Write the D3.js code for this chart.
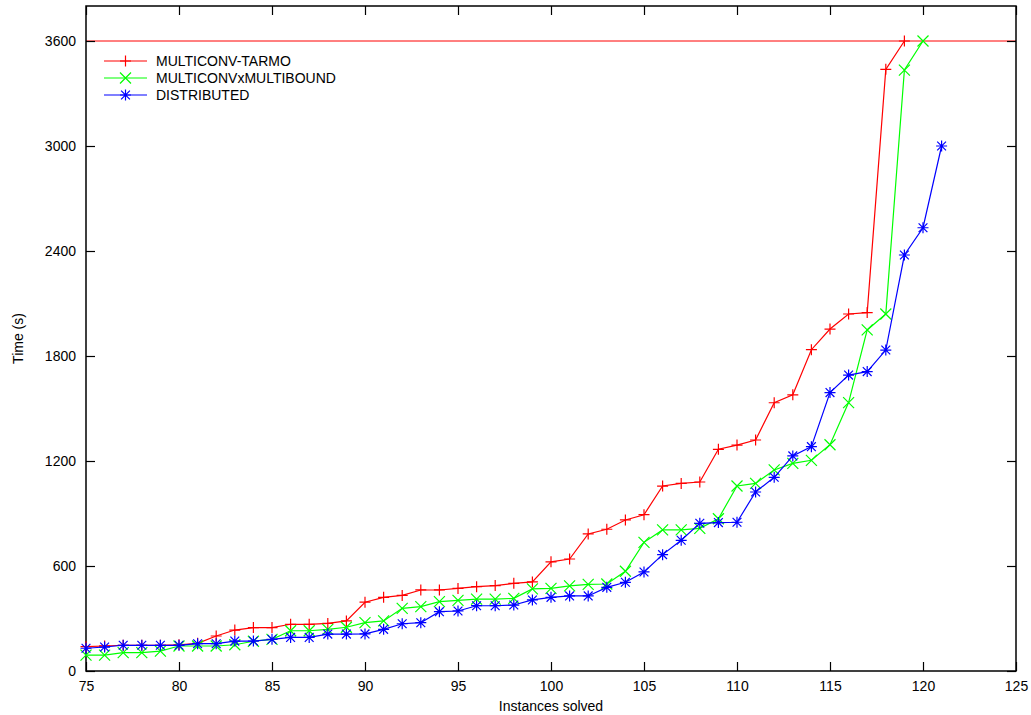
<!DOCTYPE html>
<html>
<head>
<meta charset="utf-8">
<script src="https://cdn.jsdelivr.net/npm/d3@7"></script>
<style>
  html, body { margin: 0; padding: 0; background: #fff; }
  svg { display: block; font-family: "Liberation Sans", Arial, Helvetica, sans-serif; }
</style>
</head>
<body>
<svg id="chart" width="1031" height="715"></svg>
<script>
// ---- data ----
const seriesNames = ["MULTICONV-TARMO", "MULTICONVxMULTIBOUND", "DISTRIBUTED"];
const seriesColors = ["#ff0000", "#00ff00", "#0000ff"];
const seriesMarkers = ["plus", "cross", "star"];
const startInstance = 75;
const tarmoTimes = [139, 143, 147, 147, 147, 150, 158, 200, 234, 248, 248, 267, 267, 272, 286, 393, 421, 432, 463, 463, 472, 482, 488, 501, 509, 624, 640, 783, 810, 863, 893, 1057, 1072, 1080, 1267, 1291, 1320, 1533, 1578, 1836, 1954, 2040, 2048, 3438, 3600];
const multiboundTimes = [91, 91, 105, 105, 114, 143, 143, 143, 150, 170, 181, 230, 230, 238, 250, 276, 286, 358, 368, 396, 404, 411, 411, 415, 469, 472, 486, 495, 497, 570, 735, 806, 806, 815, 870, 1057, 1072, 1149, 1186, 1204, 1293, 1534, 1949, 2040, 3434, 3600];
const distributedTimes = [130, 137, 147, 147, 147, 147, 156, 156, 171, 171, 181, 192, 192, 211, 211, 212, 238, 270, 276, 339, 343, 373, 373, 377, 406, 421, 429, 429, 478, 507, 566, 665, 747, 844, 848, 850, 1023, 1107, 1229, 1282, 1591, 1691, 1711, 1834, 2377, 2533, 3000];
const timeoutValue = 3600;
const xTicks = [75, 80, 85, 90, 95, 100, 105, 110, 115, 120, 125];
const yTicks = [0, 600, 1200, 1800, 2400, 3000, 3600];
const xDomain = [75, 125];
const yDomain = [0, 3800];
const xLabel = "Instances solved";
const yLabel = "Time (s)";

(function () {
const allSeries = [tarmoTimes, multiboundTimes, distributedTimes].map((vals, i) => ({
  name: seriesNames[i], color: seriesColors[i], marker: seriesMarkers[i],
  points: vals.map((v, j) => ({ x: startInstance + j, y: v }))
}));

// ---- layout ----
const svg = d3.select("#chart");
const mLeft = 86, mRight = 1016, mTop = 6, mBottom = 671;
const x = d3.scaleLinear().domain(xDomain).range([mLeft, mRight]);
const y = d3.scaleLinear().domain(yDomain).range([mBottom, mTop]);
const tickLen = 9;
const fontSize = 14;

// timeout line
svg.append("line")
  .attr("x1", x(xDomain[0])).attr("x2", x(xDomain[1]))
  .attr("y1", y(timeoutValue)).attr("y2", y(timeoutValue))
  .attr("stroke", seriesColors[0]).attr("stroke-width", 1);

// axes (ticks inward, mirrored)
const axisStyle = g => {
  g.select(".domain").remove();
  g.selectAll(".tick line").attr("stroke", "#000").attr("stroke-width", 1.2);
  g.selectAll(".tick text").attr("font-size", fontSize).attr("fill", "#000")
    .attr("font-family", '"Liberation Sans", Arial, sans-serif');
};
svg.append("g").attr("transform", `translate(0,${mBottom})`)
  .call(d3.axisBottom(x).tickValues(xTicks).tickSize(-tickLen).tickPadding(10).tickFormat(d3.format("d")))
  .call(axisStyle);
svg.append("g").attr("transform", `translate(0,${mTop})`)
  .call(d3.axisTop(x).tickValues(xTicks).tickSize(-tickLen).tickFormat(""))
  .call(axisStyle);
svg.append("g").attr("transform", `translate(${mLeft},0)`)
  .call(d3.axisLeft(y).tickValues(yTicks).tickSize(-tickLen).tickPadding(10).tickFormat(d3.format("d")))
  .call(axisStyle);
svg.append("g").attr("transform", `translate(${mRight},0)`)
  .call(d3.axisRight(y).tickValues(yTicks).tickSize(-tickLen).tickFormat(""))
  .call(axisStyle);

// border
svg.append("rect")
  .attr("x", mLeft).attr("y", mTop).attr("width", mRight - mLeft).attr("height", mBottom - mTop)
  .attr("fill", "none").attr("stroke", "#000").attr("stroke-width", 1.5);

// axis titles
svg.append("text").attr("x", (mLeft + mRight) / 2).attr("y", 711)
  .attr("text-anchor", "middle").attr("font-size", fontSize).text(xLabel);
svg.append("text").attr("transform", `translate(23,${(mTop + mBottom) / 2}) rotate(-90)`)
  .attr("text-anchor", "middle").attr("font-size", fontSize).text(yLabel);

// marker paths
const r = 5.5;
function markerPath(type) {
  const p = d3.path();
  if (type === "plus" || type === "star") {
    p.moveTo(-r, 0); p.lineTo(r, 0);
    p.moveTo(0, -r); p.lineTo(0, r);
  }
  if (type === "cross" || type === "star") {
    const q = type === "star" ? r * 0.8 : r;
    p.moveTo(-q, -q); p.lineTo(q, q);
    p.moveTo(-q, q); p.lineTo(q, -q);
  }
  return p.toString();
}

const line = d3.line().x(d => x(d.x)).y(d => y(d.y));
allSeries.forEach(s => {
  const g = svg.append("g");
  g.append("path").datum(s.points).attr("d", line)
    .attr("fill", "none").attr("stroke", s.color).attr("stroke-width", 1.2);
  g.selectAll("path.mk").data(s.points).enter().append("path").attr("class", "mk")
    .attr("transform", d => `translate(${x(d.x)},${y(d.y)})`)
    .attr("d", markerPath(s.marker))
    .attr("fill", "none").attr("stroke", s.color).attr("stroke-width", 1.2);
});

// legend
const legendY = [61, 78, 95];
allSeries.forEach((s, i) => {
  const g = svg.append("g").attr("transform", `translate(0,${legendY[i]})`);
  g.append("line").attr("x1", 104).attr("x2", 147).attr("y1", 0).attr("y2", 0)
    .attr("stroke", s.color).attr("stroke-width", 1.2);
  g.append("path").attr("transform", "translate(125.5,0)").attr("d", markerPath(s.marker))
    .attr("fill", "none").attr("stroke", s.color).attr("stroke-width", 1.2);
  g.append("text").attr("x", 156).attr("y", 5).attr("font-size", fontSize).text(s.name);
});
})();
</script>
</body>
</html>
